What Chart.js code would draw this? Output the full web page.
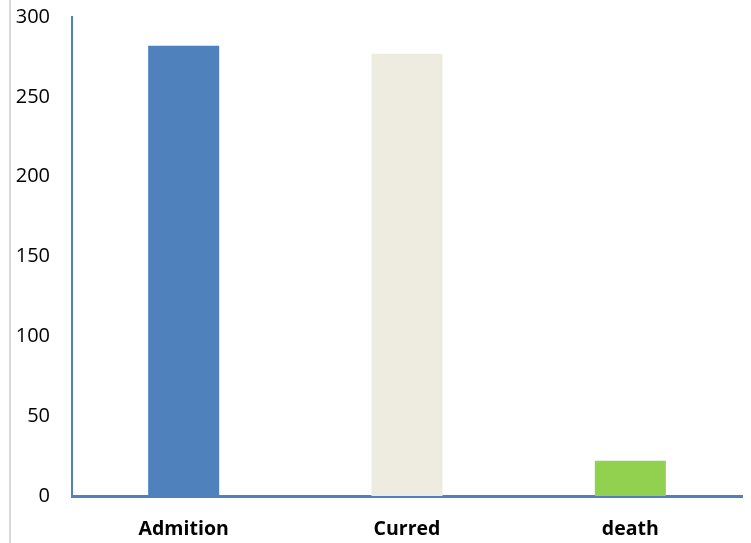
<!DOCTYPE html>
<html>
<head>
<meta charset="utf-8">
<script src="https://cdn.jsdelivr.net/npm/chart.js@4/dist/chart.umd.min.js"></script>
<style>
  html, body { margin: 0; padding: 0; background: #ffffff; }
  #wrap { position: relative; width: 751px; height: 543px; }
  #borde { position: absolute; left: 9px; top: 0; width: 2px; height: 543px; background: #d9d9d9; }
  canvas { position: absolute; left: 0; top: 0; }
</style>
</head>
<body>
<div id="wrap">
  <div id="borde"></div>
  <canvas id="grafico" width="751" height="543"></canvas>
</div>
<script>
const CATEGORIAS = ["Admition", "Curred", "death"];
const VALORES = [282, 277, 22];
const COLORES = ["#4f81bd", "#eeece1", "#92d050"];
const TICKS_Y = [0, 50, 100, 150, 200, 250, 300];

const AZUL_EJE = "#4f81bd";

document.addEventListener("DOMContentLoaded", () => {
  const ctx = document.getElementById("grafico");

  new Chart(ctx, {
    type: "bar",
    data: {
      labels: CATEGORIAS,
      datasets: [
        {
          data: VALORES,
          backgroundColor: COLORES,
          borderWidth: 0,
          barPercentage: 1,
          categoryPercentage: 0.318
        }
      ]
    },
    options: {
      responsive: false,
      animation: false,
      devicePixelRatio: 1,
      layout: {
        padding: { top: 17, right: 9, left: 0, bottom: 0 }
      },
      plugins: {
        legend: { display: false },
        tooltip: { enabled: false }
      },
      scales: {
        x: {
          z: 1,
          grid: { display: false, drawTicks: false },
          border: { color: AZUL_EJE, width: 3 },
          ticks: {
            color: "#000000",
            padding: 22,
            font: { family: "'Open Sans'", size: 19.5, weight: "bold" }
          },
          afterFit(scale) {
            scale.height = 47;
            scale.paddingLeft = 0;
            scale.paddingRight = 0;
          }
        },
        y: {
          z: 1,
          min: 0,
          max: 300,
          afterBuildTicks(scale) {
            scale.ticks = TICKS_Y.map((v) => ({ value: v }));
          },
          grid: { display: false, drawTicks: false },
          border: { color: AZUL_EJE, width: 2 },
          ticks: {
            color: "#000000",
            padding: 22,
            font: { family: "'Open Sans'", size: 20 }
          },
          afterFit(scale) {
            scale.width = 72;
            scale.paddingTop = 0;
            scale.paddingBottom = 0;
          }
        }
      }
    }
  });
});
</script>
</body>
</html>
